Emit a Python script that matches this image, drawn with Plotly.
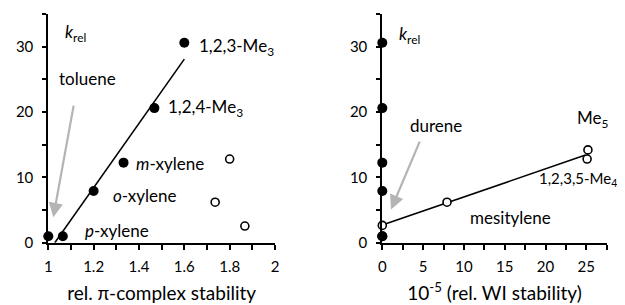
import numpy as np
import plotly.graph_objects as go

# ---------------- data ----------------
filled_names = ["toluene", "p-xylene", "o-xylene", "m-xylene", "1,2,4-Me3", "1,2,3-Me3"]
filled_pi = [1.0, 1.064, 1.2, 1.332, 1.468, 1.6]
filled_k = [1.0, 1.0, 7.9, 12.25, 20.6, 30.6]
filled_wi = [0.0, 0.0, 0.0, 0.0, 0.0, 0.0]

open_names_left = ["mesitylene", "1,2,3,5-Me4", "durene"]
open_pi = [1.736, 1.80, 1.867]
open_k_left = [6.2, 12.8, 2.55]

open_names_right = ["durene", "mesitylene", "1,2,3,5-Me4", "Me5"]
open_wi = [0.0, 7.93, 25.1, 25.2]
open_k_right = [2.65, 6.2, 12.8, 14.2]

# ---------------- fits ----------------
s1, b1 = np.polyfit(filled_pi, filled_k, 1)
fit1_x = np.array([-b1 / s1, max(filled_pi)])
fit1_y = s1 * fit1_x + b1

s2, b2 = np.polyfit(open_wi, open_k_right, 1)
fit2_x = np.array([0.0, 24.9])
fit2_y = s2 * fit2_x + b2

FONT = "Lato"
OFF = 8  # page body margin
W, H = 625, 305
fig = go.Figure()

# left panel
fig.add_trace(go.Scatter(x=fit1_x, y=fit1_y, mode="lines",
                         line=dict(color="black", width=1.6),
                         xaxis="x", yaxis="y", showlegend=False, hoverinfo="skip"))
fig.add_trace(go.Scatter(x=filled_pi, y=filled_k, mode="markers",
                         marker=dict(color="black", size=10),
                         cliponaxis=False, xaxis="x", yaxis="y", showlegend=False))
fig.add_trace(go.Scatter(x=open_pi, y=open_k_left, mode="markers",
                         marker=dict(color="white", size=8, line=dict(color="black", width=1.6)),
                         cliponaxis=False, xaxis="x", yaxis="y", showlegend=False))

# right panel
fig.add_trace(go.Scatter(x=fit2_x, y=fit2_y, mode="lines",
                         line=dict(color="black", width=1.6),
                         xaxis="x2", yaxis="y2", showlegend=False, hoverinfo="skip"))
fig.add_trace(go.Scatter(x=filled_wi, y=filled_k, mode="markers",
                         marker=dict(color="black", size=10),
                         cliponaxis=False, xaxis="x2", yaxis="y2", showlegend=False))
fig.add_trace(go.Scatter(x=open_wi, y=open_k_right, mode="markers",
                         marker=dict(color="white", size=8, line=dict(color="black", width=1.6)),
                         cliponaxis=False, xaxis="x2", yaxis="y2", showlegend=False))

ydom = [1 - (242.7 - OFF) / H, 1 - (14 - OFF) / H]
tickfont = dict(family=FONT, size=15, color="black")
titlefont = dict(family=FONT, size=19, color="black")

common_y = dict(range=[0, 35], domain=ydom, showline=True, linecolor="black", linewidth=2,
                ticks="outside", ticklen=4, tickwidth=1.5, tickcolor="black",
                tickvals=[0, 10, 20, 30], showgrid=False, zeroline=False,
                ticklabelstandoff=6,
                minor=dict(tickvals=[5, 15, 25, 35], ticks="outside", ticklen=4,
                           tickwidth=1.5, tickcolor="black", showgrid=False),
                tickfont=tickfont, automargin=False, fixedrange=True)

common_x = dict(showline=True, linecolor="black", linewidth=2,
                ticks="outside", ticklen=5, tickwidth=1.5, tickcolor="black",
                showgrid=False, zeroline=False, tickfont=tickfont, ticklabelstandoff=4,
                automargin=False)

fig.update_layout(
    width=W, height=H,
    margin=dict(l=0, r=0, t=0, b=0),
    paper_bgcolor="white", plot_bgcolor="white",
    xaxis=dict(range=[1, 2], domain=[(48.3 - OFF) / W, (275 - OFF) / W], anchor="y",
               tickvals=[1, 1.2, 1.4, 1.6, 1.8, 2], ticktext=["1", "1.2", "1.4", "1.6", "1.8", "2"],
               minor=dict(tickvals=[1.1, 1.3, 1.5, 1.7, 1.9], ticks="outside", ticklen=5,
                          tickwidth=1.5, tickcolor="black", showgrid=False),
               title=dict(text="rel. π-complex stability", font=titlefont, standoff=13),
               **common_x),
    yaxis=dict(anchor="x", **common_y),
    xaxis2=dict(range=[0, 27.5], domain=[(382.3 - OFF) / W, (606.7 - OFF) / W], anchor="y2",
                tickvals=[0, 5, 10, 15, 20, 25],
                minor=dict(tickvals=[2.5, 7.5, 12.5, 17.5, 22.5, 27.5], ticks="outside", ticklen=5,
                           tickwidth=1.5, tickcolor="black", showgrid=False),
                title=dict(text="10<sup>-5</sup> (rel. WI stability)", font=titlefont, standoff=13),
                **common_x),
    yaxis2=dict(anchor="x2", **common_y),
)


def label(text, x, y, ax="x", ay="y", size=17):
    fig.add_annotation(text=text, x=x, y=y, xref=ax, yref=ay, xanchor="left", yanchor="middle",
                       showarrow=False, font=dict(family=FONT, size=size, color="black"))

# left labels
label("<i>k</i><sub>rel</sub>", 1.065, 32.1)
label("toluene", 1.038, 25.1)
label("1,2,3-Me<sub>3</sub>", 1.657, 30.0)
label("1,2,4-Me<sub>3</sub>", 1.519, 20.6)
label("<i>m</i>-xylene", 1.378, 12.1)
label("<i>o</i>-xylene", 1.277, 7.26)
label("<i>p</i>-xylene", 1.153, 1.94)

# right labels
label("<i>k</i><sub>rel</sub>", 1.8, 31.8, "x2", "y2")
label("durene", 3.15, 18.0, "x2", "y2")
label("Me<sub>5</sub>", 23.6, 18.9, "x2", "y2")
label("1,2,3,5-Me<sub>4</sub>", 18.9, 9.8, "x2", "y2", size=15)
label("mesitylene", 10.5, 3.83, "x2", "y2")

# gray arrows
arrow_color = "#b4b4b4"
fig.add_annotation(x=1.022, y=3.9, xref="x", yref="y", ax=1.113, ay=21.2, axref="x", ayref="y",
                   text="", showarrow=True, arrowhead=2, arrowsize=1.3, arrowwidth=2.2,
                   arrowcolor=arrow_color)
fig.add_annotation(x=1.07, y=5.1, xref="x2", yref="y2", ax=4.66, ay=15.7, axref="x2", ayref="y2",
                   text="", showarrow=True, arrowhead=2, arrowsize=1.3, arrowwidth=2.2,
                   arrowcolor=arrow_color)

fig.write_html("out.html")
